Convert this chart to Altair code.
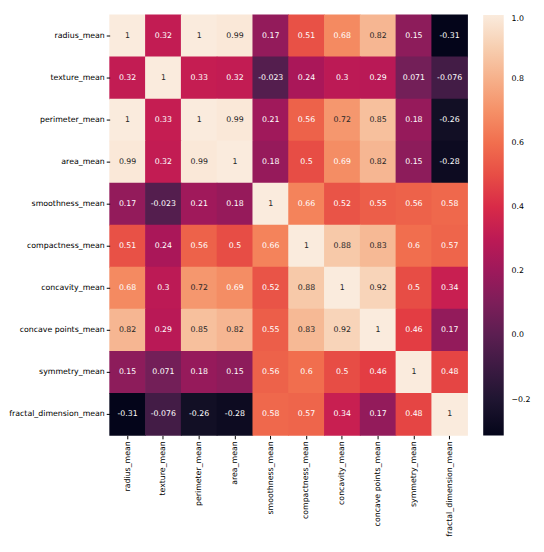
import altair as alt
import pandas as pd
import numpy as np

labels = ["radius_mean", "texture_mean", "perimeter_mean", "area_mean",
          "smoothness_mean", "compactness_mean", "concavity_mean",
          "concave points_mean", "symmetry_mean", "fractal_dimension_mean"]

row_radius = [1, 0.32, 1, 0.99, 0.17, 0.51, 0.68, 0.82, 0.15, -0.31]
row_texture = [0.32, 1, 0.33, 0.32, -0.023, 0.24, 0.3, 0.29, 0.071, -0.076]
row_perimeter = [1, 0.33, 1, 0.99, 0.21, 0.56, 0.72, 0.85, 0.18, -0.26]
row_area = [0.99, 0.32, 0.99, 1, 0.18, 0.5, 0.69, 0.82, 0.15, -0.28]
row_smooth = [0.17, -0.023, 0.21, 0.18, 1, 0.66, 0.52, 0.55, 0.56, 0.58]
row_compact = [0.51, 0.24, 0.56, 0.5, 0.66, 1, 0.88, 0.83, 0.6, 0.57]
row_concavity = [0.68, 0.3, 0.72, 0.69, 0.52, 0.88, 1, 0.92, 0.5, 0.34]
row_concpts = [0.82, 0.29, 0.85, 0.82, 0.55, 0.83, 0.92, 1, 0.46, 0.17]
row_symmetry = [0.15, 0.071, 0.18, 0.15, 0.56, 0.6, 0.5, 0.46, 1, 0.48]
row_fractal = [-0.31, -0.076, -0.26, -0.28, 0.58, 0.57, 0.34, 0.17, 0.48, 1]

rows = [row_radius, row_texture, row_perimeter, row_area, row_smooth,
        row_compact, row_concavity, row_concpts, row_symmetry, row_fractal]

color_min = -0.3117
color_max = 1.0
rocket = ["#03051a", "#35193e", "#701f57", "#ad1759", "#e13342",
          "#f37651", "#f6b48f", "#faebdd"]
stops = [0, 1/7, 2/7, 3/7, 4/7, 5/7, 6/7, 1]
domain = [color_min + s * (color_max - color_min) for s in stops]

records = []
for i, r in enumerate(labels):
    for j, c in enumerate(labels):
        v = rows[i][j]
        records.append({"row": r, "col": c, "value": v, "label": f"{v:g}"})
df = pd.DataFrame(records)

font = "DejaVu Sans"
cscale = alt.Scale(domain=domain, range=rocket, type="linear")

base = alt.Chart(df).encode(
    x=alt.X("col:N", sort=labels, title=None,
            axis=alt.Axis(labelAngle=-90, labelFontSize=8, labelFont=font,
                          labelColor="#000000", domain=False, tickSize=3.5,
                          tickColor="#000000", labelPadding=2)),
    y=alt.Y("row:N", sort=labels, title=None,
            axis=alt.Axis(labelFontSize=8, labelFont=font, labelColor="#000000",
                          domain=False, tickSize=3.5, tickColor="#000000",
                          labelPadding=2)),
)

rects = base.mark_rect(width=alt.RelativeBandSize(1.02),
                       height=alt.RelativeBandSize(1.02)).encode(
    color=alt.Color("value:Q", scale=cscale,
                    legend=alt.Legend(title=None, gradientLength=430,
                                      gradientThickness=21, values=[-0.2, 0, 0.2, 0.4, 0.6, 0.8, 1.0],
                                      format=".1f", labelFontSize=8, labelFont=font,
                                      labelColor="#000000", offset=16,
                                      labelOffset=8, direction="vertical")),
)

texts = base.mark_text(fontSize=8, font=font).encode(
    text="label:N",
    color=alt.condition(alt.datum.value >= 0.7, alt.value("#262626"), alt.value("#ffffff")),
)

chart = (rects + texts).properties(width=366, height=430, padding={"left": 0, "top": 0, "right": 5, "bottom": 5}).configure_view(stroke=None)

chart.save("out.html", embed_options={"renderer": "svg", "actions": False})
